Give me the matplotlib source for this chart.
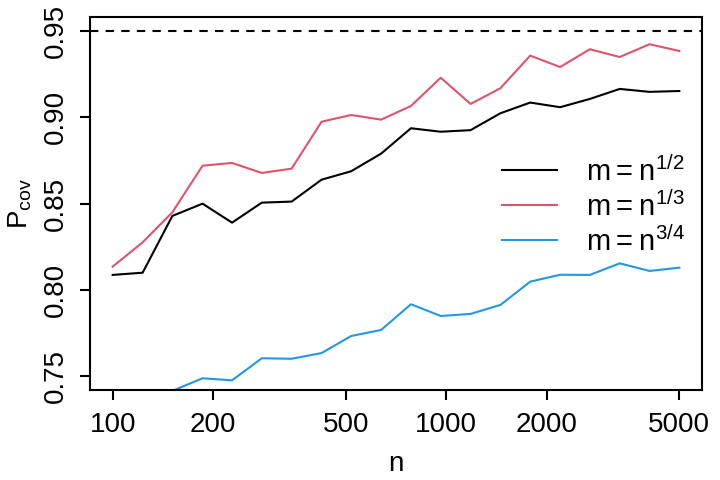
import numpy as np
import matplotlib
matplotlib.use('Agg')
import matplotlib.pyplot as plt

# sample sizes (log-spaced in the original simulation)
n = [100, 123, 151, 186, 228, 280, 344, 423, 519, 638,
     784, 963, 1183, 1454, 1786, 2195, 2696, 3313, 4070, 5000]

# coverage for each choice of m
cov_half = [0.8087, 0.8100, 0.8429, 0.8500, 0.8390, 0.8506, 0.8512, 0.8639, 0.8688, 0.8790,
            0.8937, 0.8917, 0.8926, 0.9024, 0.9086, 0.9059, 0.9107, 0.9165, 0.9148, 0.9153]
cov_third = [0.8135, 0.8276, 0.8450, 0.8720, 0.8736, 0.8678, 0.8703, 0.8975, 0.9014, 0.8987,
             0.9066, 0.9230, 0.9078, 0.9169, 0.9358, 0.9292, 0.9395, 0.9350, 0.9424, 0.9385]
cov_3q = [0.725, 0.735, 0.7415, 0.7488, 0.7476, 0.7604, 0.7601, 0.7634, 0.7733, 0.7768,
          0.7917, 0.7849, 0.7861, 0.7913, 0.8048, 0.8088, 0.8087, 0.8154, 0.8110, 0.8129]

labels = [r'$\mathregular{m = n^{1/2}}$', r'$\mathregular{m = n^{1/3}}$', r'$\mathregular{m = n^{3/4}}$']
colors = ['black', '#DF536B', '#2297E6']
nominal = 0.95

plt.rcParams['font.family'] = ['Liberation Sans', 'DejaVu Sans']
plt.rcParams['mathtext.fontset'] = 'custom'
plt.rcParams['mathtext.rm'] = 'Liberation Sans'
plt.rcParams['font.size'] = 20

fig = plt.figure(figsize=(7.2, 4.8), dpi=100)
ax = fig.add_axes([0.125, 0.1875, 0.85, 0.7764])

for y, c, lab in zip([cov_half, cov_third, cov_3q], colors, labels):
    ax.plot(n, y, color=c, lw=1.5, label=lab)
ax.axhline(nominal, color='black', lw=1.5, dashes=(4, 3.5))

ax.set_xscale('log')
lo, hi = np.log10(n[0]), np.log10(n[-1])
pad = 0.04 * (hi - lo)
ax.set_xlim(10 ** (lo - pad), 10 ** (hi + pad))
ax.set_ylim(0.75 - 0.008, 0.95 + 0.008)

xt = [100, 200, 500, 1000, 2000, 5000]
ax.set_xticks(xt)
ax.set_xticklabels([str(v) for v in xt])
ax.minorticks_off()
yt = [0.75, 0.80, 0.85, 0.90, 0.95]
ax.set_yticks(yt)
ax.set_yticklabels(['%.2f' % v for v in yt], rotation=90, va='center')

for s in ax.spines.values():
    s.set_linewidth(1.5)
ax.tick_params(direction='out', length=7.5, width=1.5, pad=8)

ax.set_xlabel('n', labelpad=10)
ax.set_ylabel(r'$\mathregular{P_{cov}}$', labelpad=6)

ax.legend(loc='center left', bbox_to_anchor=(0.673, 0.493), frameon=False,
          handlelength=1.9, handletextpad=1.0, labelspacing=0.15,
          borderpad=0, borderaxespad=0, fontsize=21)

fig.savefig('out.png', dpi=100)
